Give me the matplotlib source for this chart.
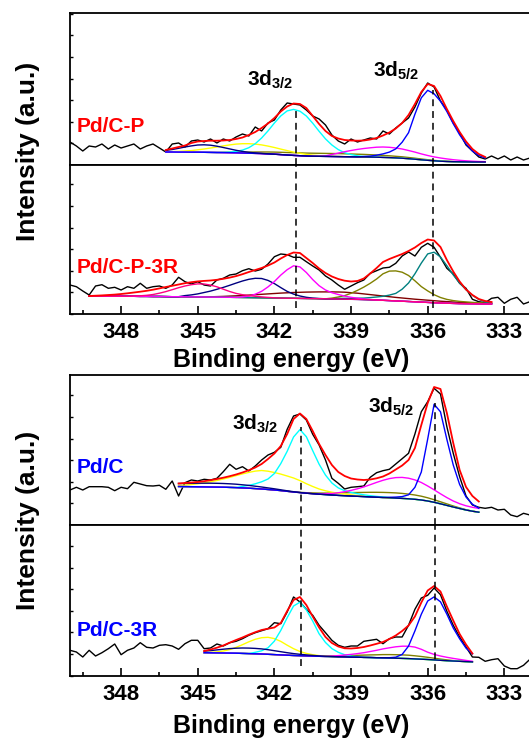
import numpy as np
import matplotlib
matplotlib.use("Agg")
import matplotlib.pyplot as plt
from matplotlib.ticker import MultipleLocator

plt.rcParams['font.family'] = ['Liberation Sans', 'DejaVu Sans']
plt.rcParams['font.weight'] = 'bold'
plt.rcParams['mathtext.default'] = 'regular'

STEP = 0.25          # eV between points
RAW_START = 350.0    # first energy of every raw spectrum

# ---------------- Pd/C-P ----------------
raw_cp = [23, 19, 14, 19, 18, 21, 16, 20, 17, 19,
          21, 16, 19, 21, 17, 13, 21, 22, 18, 24,
          25, 23, 26, 22, 26, 24, 28, 31, 29, 38,
          34, 42, 45, 55, 62, 61, 60, 55, 49, 46,
          40, 30, 24, 21, 26, 23, 25, 27, 26, 34,
          31, 37, 42, 47, 58, 72, 82, 78, 64, 55,
          42, 32, 20, 14, 8, 6, 9, 6, 9, 5,
          8, 5, 7, 6]
fit_start_cp = 346.25
bg_cp = [13.0, 13.0, 12.9, 12.9, 12.8, 12.8, 12.7, 12.6, 12.5, 12.4, 12.3,
         12.2, 12.0, 11.8, 11.6, 11.4, 11.1, 10.8, 10.4, 10.0, 9.6, 9.3,
         9.0, 8.8, 8.7, 8.6, 8.5, 8.4, 8.3, 8.2, 8.1, 8.0, 7.9,
         7.8, 7.6, 7.4, 7.1, 6.8, 6.3, 5.8, 5.2, 4.7, 4.2, 3.8,
         3.5, 3.3, 3.2, 3.1, 3.0, 3.0, 3.0]
env_cp = [15.0, 16.5, 18.0, 19.5, 22.0, 23.5, 24.0, 24.3, 24.3, 24.5, 25.0,
          26.0, 27.5, 30.0, 33.0, 37.0, 41.5, 47.0, 53.5, 58.5, 61.5, 61.0,
          57.0, 49.0, 41.0, 34.0, 29.0, 26.5, 25.0, 24.5, 24.3, 24.5, 25.5,
          27.0, 29.5, 32.5, 36.5, 42.0, 50.0, 61.0, 73.0, 81.0, 79.0, 69.0,
          56.0, 44.0, 33.0, 23.5, 16.0, 11.0, 8.0]
cp_olive = (344.0, [0.3, 0.5, 0.7, 0.9, 1.1, 1.4, 1.6, 1.9, 2.1, 2.3,
                    2.5, 2.7, 2.8, 2.9, 3.0, 3.0, 3.0, 3.0, 3.0, 2.9,
                    2.8, 2.7, 2.6, 2.4, 2.2, 2.0, 1.8, 1.6, 1.4, 1.2,
                    1.0, 0.8, 0.6, 0.4, 0.3, 0.2, 0.1])
cp_yellow = (346.25, [0.2, 0.4, 0.7, 1.1, 1.6, 2.4, 3.3, 4.4, 5.5, 6.7,
                      7.8, 8.7, 9.3, 9.5, 9.3, 8.7, 7.8, 6.7, 5.5, 4.4,
                      3.3, 2.4, 1.6, 1.1, 0.7, 0.4, 0.2, 0.1])
cp_cyan = (344.0, [0.2, 0.6, 1.4, 2.9, 5.5, 9.7, 15.6, 23.0, 31.2, 38.7,
                   44.1, 46.0, 44.5, 40.0, 33.0, 25.0, 17.5, 11.5, 7.0, 4.0,
                   2.2, 1.1, 0.5, 0.2])
cp_magenta = (340.0, [0.5, 2.0, 3.5, 5.0, 6.3, 7.5, 8.5, 9.3, 10.0, 10.4,
                      10.3, 9.9, 9.2, 8.2, 7.1, 5.9, 4.8, 3.9, 3.2, 2.6,
                      2.0, 1.5, 1.1, 0.8, 0.5, 0.3])
cp_blue = (338.5, [0.5, 1.0, 2.0, 3.5, 5.5, 9.0, 16.0, 26.0, 45.0, 62.0,
                   70.0, 67.0, 60.0, 50.0, 38.0, 27.0, 18.0, 11.0, 6.5, 4.0])
cp_navy = (346.25, [1.6, 2.5, 3.8, 5.1, 6.3, 7.2, 7.5, 7.2, 6.3, 5.1,
                    3.8, 2.5, 1.6, 0.9, 0.5, 0.2, 0.1])

# ---------------- Pd/C-P-3R ----------------
raw_cp3 = [29, 27.3, 23, 19, 28, 29.3, 25.7, 26.7, 24, 27.3,
           25.7, 30.7, 25.7, 27.3, 28, 25.7, 29, 36.7, 32.3, 30,
           32.3, 29, 28, 34, 35.7, 39, 40, 43.3, 45.3, 43,
           44.7, 50, 57.3, 60, 59.3, 56.7, 56.7, 52.3, 48, 44,
           38, 34, 29, 24.7, 28, 31.3, 34, 40.7, 43.3, 46,
           46.7, 50.7, 58, 62, 58, 66.7, 70.7, 66.7, 56.7, 45.7,
           40, 30.7, 25.7, 14.7, 12.3, 11.3, 15.7, 16.7, 10.7, 14.7,
           16.7, 10, 12.3, 14]
fit_start_cp3 = 349.25
bg_cp3 = [18.0, 18.0, 17.9, 17.9, 17.8, 17.8, 17.7, 17.7, 17.6, 17.6, 17.5,
          17.5, 17.4, 17.3, 17.3, 17.2, 17.1, 17.1, 17.0, 16.9, 16.9, 16.8,
          16.7, 16.6, 16.5, 16.4, 16.3, 16.2, 16.1, 16.0, 15.9, 15.8, 15.7,
          15.6, 15.5, 15.4, 15.3, 15.2, 15.1, 15.0, 14.9, 14.7, 14.6, 14.4,
          14.2, 14.0, 13.7, 13.4, 13.1, 12.8, 12.5, 12.2, 11.9, 11.6, 11.3,
          11.0, 10.8, 10.6, 10.4, 10.3, 10.2, 10.1, 10.0, 10.0]
env_cp3 = [18.0, 18.3, 18.6, 19.0, 19.4, 20.0, 20.7, 21.5, 22.3, 23.2, 24.3,
           25.6, 27.0, 28.2, 29.5, 30.8, 31.8, 32.6, 33.1, 33.5, 34.2, 35.2,
           36.4, 37.9, 39.8, 42.0, 44.0, 46.0, 48.5, 51.5, 55.5, 59.0, 61.5,
           61.0, 56.0, 51.0, 45.5, 41.0, 37.5, 35.0, 33.3, 32.5, 33.0, 35.5,
           40.5, 46.0, 52.0, 55.0, 57.5, 60.0, 63.0, 66.5, 71.0, 74.5, 73.5,
           67.0, 54.0, 42.5, 32.5, 24.5, 19.0, 15.0, 13.0, 12.0]
cp3_wine = (344.5, [0.3, 0.5, 0.8, 1.2, 1.6, 2.0, 2.5, 3.0, 3.5, 4.0,
                    4.5, 5.0, 5.4, 5.8, 6.1, 6.4, 6.6, 6.8, 6.9, 7.0,
                    7.0, 6.9, 6.6, 6.2, 5.7, 5.2, 4.7, 4.3, 3.9, 3.5,
                    3.2, 2.9, 2.6, 2.4, 2.2, 2.0, 1.8, 1.6, 1.4, 1.2,
                    1.0, 0.9, 0.8, 0.7, 0.6])
cp3_olive = (339.75, [0.8, 2.0, 3.5, 6.0, 9.0, 12.5, 16.5, 21.0, 26.5, 29.5,
                      30.0, 29.0, 26.0, 21.0, 15.5, 11.5, 8.0, 5.5, 3.8, 2.8,
                      2.2, 1.8, 1.4, 1.1, 0.9, 0.7])
cp3_teal = (339.5, [0.6, 0.8, 1.0, 1.2, 1.5, 2.2, 3.0, 4.0, 5.5, 7.5,
                    12.0, 18.5, 28.0, 39.0, 48.5, 50.5, 46.0, 37.5, 28.5, 20.5,
                    14.0, 8.5, 4.5, 2.0, 0.8])
cp3_navy = (345.5, [1.2, 2.0, 3.0, 4.5, 6.0, 7.8, 9.8, 12.0, 14.3, 16.5,
                    18.3, 19.4, 19.3, 17.5, 14.4, 10.5, 6.8, 4.2, 2.4, 1.2,
                    0.5, 0.2])
cp3_magenta = (343.25, [0.5, 1.5, 3.5, 6.5, 11.0, 16.5, 23.0, 28.5, 32.5, 31.5,
                        26.0, 19.0, 13.0, 8.8, 6.2, 4.5, 3.0, 2.0, 1.2, 0.6,
                        0.3])
cp3_pink = (347.5, [0.3, 0.6, 1.1, 2.0, 3.3, 5.0, 7.0, 9.0, 10.8, 12.2,
                    13.0, 13.0, 12.0, 10.3, 8.0, 5.8, 4.0, 2.8, 2.0, 1.4,
                    0.9, 0.5, 0.2])

# ---------------- Pd/C ----------------
raw_c = [35, 37.7, 35, 38.3, 38.3, 38.3, 37.7, 34.3, 37.7, 36.3,
         42.7, 41, 39.3, 39, 39.7, 35.7, 44, 29, 42.3, 45,
         44, 45.7, 45, 46.7, 53.3, 60.7, 55.7, 58.3, 54, 59,
         65, 70, 72.7, 77.7, 95.7, 109, 111, 105, 90.7, 80,
         65, 46.7, 41.7, 36, 37.7, 38.3, 39, 47.7, 52.3, 54.3,
         55.7, 61, 66.3, 71.7, 91, 113.3, 123.3, 136.7, 131, 98.3,
         71.7, 48.3, 29, 20, 17.7, 16.7, 17.7, 15, 15.7, 10,
         8.3, 11.7, 10, 12]
fit_start_c = 345.75
bg_c = [38.5, 38.4, 38.3, 38.2, 38.1, 38.0, 37.9, 37.8, 37.6, 37.4, 37.1, 36.8,
        36.4, 36.0, 35.5, 35.0, 34.4, 33.7, 33.0, 32.4, 31.8, 31.3, 30.8, 30.4,
        30.0, 29.6, 29.3, 29.0, 28.7, 28.4, 28.1, 27.8, 27.5, 27.2, 26.9, 26.6,
        26.2, 25.7, 25.0, 24.0, 22.7, 21.2, 19.6, 18.0, 16.5, 15.0, 13.8, 12.8]
env_c = [41.5, 42.0, 42.5, 43.0, 43.8, 44.8, 46.0, 47.3, 48.8, 50.5, 52.5, 54.8,
         57.5, 61.0, 66.0, 71.5, 79.0, 91.0, 106.0, 111.5, 106.0, 94.0, 81.0, 70.0,
         60.0, 53.0, 49.0, 46.5, 45.5, 45.0, 45.5, 46.7, 48.5, 51.5, 55.5, 59.5,
         65.0, 77.0, 100.0, 122.0, 138.0, 136.0, 112.0, 82.0, 55.0, 38.0, 29.0, 23.5]
c_olive = (341.0, [0.3, 0.5, 0.8, 1.1, 1.5, 1.9, 2.4, 2.9, 3.4, 3.8,
                   4.2, 4.6, 4.9, 5.1, 5.2, 5.2, 5.0, 4.7, 4.3, 3.8,
                   3.2, 2.6, 2.0, 1.5, 1.0, 0.6, 0.3])
c_yellow = (345.75, [1.0, 1.5, 2.2, 3.0, 4.0, 5.2, 6.6, 8.2, 10.0, 12.0,
                     14.0, 15.8, 17.5, 18.5, 18.3, 17.5, 16.5, 15.3, 14.0, 12.0,
                     9.5, 7.2, 5.2, 3.8, 2.8, 2.1, 1.6, 1.2, 0.8, 0.5,
                     0.3, 0.1])
c_cyan = (343.25, [1.5, 2.8, 4.8, 7.2, 10.5, 16.5, 27.0, 40.0, 55.0, 63.0,
                   56.5, 43.0, 30.0, 19.5, 12.0, 7.5, 5.0, 3.6, 2.6, 1.8,
                   1.2, 0.8, 0.5, 0.3])
c_magenta = (340.25, [0.3, 0.8, 1.5, 2.6, 4.0, 5.6, 7.5, 9.7, 12.2, 14.8,
                      17.2, 19.2, 20.5, 21.0, 20.6, 19.4, 17.5, 15.0, 12.5, 10.0,
                      7.8, 6.0, 4.8, 4.2, 3.9, 3.8])
c_blue = (337.5, [0.5, 1.0, 1.8, 4.0, 12.0, 28.0, 62.0, 98.0, 92.0, 66.0,
                  42.0, 24.0, 13.0, 7.0, 4.0])
c_navy = (345.75, [3.0, 3.2, 3.4, 3.6, 3.7, 3.8, 3.8, 3.7, 3.6, 3.4,
                   3.1, 2.8, 2.4, 2.0, 1.6, 1.2, 0.8, 0.5, 0.3, 0.1])

# ---------------- Pd/C-3R ----------------
raw_c3 = [25.2, 23.5, 18.5, 25.2, 19.5, 22.8, 26.8, 31.5, 20.8, 25.2,
          27.5, 32.8, 28.2, 27.5, 30.2, 30.8, 29.5, 26.2, 31.8, 35.2,
          35.2, 26.8, 27.5, 31.5, 29.5, 32.8, 34.2, 36.8, 40.2, 42.8,
          44.8, 46.8, 52.8, 51.8, 63.5, 78.5, 73.5, 66.2, 60.2, 50.2,
          42.8, 35.2, 30.2, 28.2, 29.5, 29.5, 34.2, 35.2, 36.2, 31.8,
          36.8, 38.5, 38.5, 50.2, 66.2, 77.5, 80.2, 87.5, 80.8, 64.2,
          50.2, 38.5, 28.5, 18.5, 18.2, 14.2, 15.8, 16.8, 9.5, 6.8,
          6.8, 10.2, 16.2, 12]
fit_start_c3 = 344.75
bg_c3 = [22.8, 22.7, 22.6, 22.5, 22.4, 22.3, 22.1, 21.9,
         21.7, 21.5, 21.2, 20.9, 20.6, 20.3, 20.0, 19.8,
         19.6, 19.4, 19.2, 19.0, 18.9, 18.7, 18.6, 18.4,
         18.3, 18.1, 18.0, 17.8, 17.7, 17.5, 17.3, 17.1,
         16.9, 16.6, 16.3, 16.0, 15.6, 15.2, 14.8, 14.5,
         14.2, 13.9, 13.6]
env_c3 = [24.5, 26.0, 27.8, 30.0, 32.8, 35.5, 38.0, 40.8,
          43.3, 45.5, 46.8, 48.0, 52.5, 64.5, 75.5, 78.5,
          70.5, 59.0, 48.0, 38.5, 32.5, 29.0, 27.2, 27.0,
          27.5, 28.5, 30.0, 31.7, 33.5, 36.5, 40.0, 44.5,
          50.0, 59.0, 73.0, 85.0, 89.5, 84.0, 69.0, 55.0,
          41.5, 31.0, 22.0]
c3_olive = (340.0, [0.3, 0.5, 0.8, 1.1, 1.5, 1.9, 2.3, 2.6, 2.9, 3.2,
                    3.4, 3.5, 3.5, 3.4, 3.1, 2.7, 2.2, 1.7, 1.2, 0.8, 0.4])
c3_yellow = (344.5, [0.5, 1.0, 2.0, 3.5, 5.8, 8.7, 11.8, 14.5, 16.3, 17.0,
                     16.0, 13.5, 10.0, 6.8, 4.2, 2.5, 1.4, 0.7, 0.3])
c3_cyan = (342.75, [1.5, 3.2, 6.5, 13.5, 24.5, 37.5, 49.5, 53.5, 46.0, 35.0,
                    22.5, 14.0, 8.0, 4.5, 2.2, 1.0, 0.4])
c3_magenta = (339.75, [0.5, 1.2, 1.9, 2.7, 3.6, 4.7, 6.0, 7.4, 8.9, 10.2,
                       11.4, 12.2, 12.4, 11.8, 9.9, 7.3, 5.5, 4.3, 3.4, 2.6,
                       1.9, 1.2, 0.6])
c3_blue = (337.5, [0.3, 1.0, 4.0, 12.5, 28.0, 45.0, 58.5, 63.0, 58.5, 46.5,
                   33.0, 22.5, 13.5, 8.0])
c3_navy = (344.75, [1.5, 2.2, 3.0, 3.8, 4.5, 5.0, 5.4, 5.5, 5.4, 5.1,
                    4.6, 3.9, 3.2, 2.5, 1.9, 1.4, 1.0, 0.7, 0.4, 0.2])

# peak guide positions (eV)
dash_upper = [341.15, 335.8]
dash_lower = [340.96, 335.72]

# labelled energies on the x axis
xtick_values = [348, 345, 342, 339, 336, 333]

# ---------------- layout ----------------
W, H = 529, 742
fig = plt.figure(figsize=(W / 100, H / 100), dpi=100)


def make_axes(top, bottom):
    # axes extend past the right edge, like the cropped original
    ax = fig.add_axes([70 / W, 1 - bottom / H, 511 / W, (bottom - top) / H])
    ax.set_xlim(350, 330)
    ax.set_ylim(0, bottom - top)
    for s in ax.spines.values():
        s.set_linewidth(1.3)
    ax.set_xticks(xtick_values)
    ax.xaxis.set_minor_locator(MultipleLocator(1.5))
    ax.yaxis.set_major_locator(MultipleLocator(21.6))
    ax.tick_params(axis='x', which='major', direction='in', length=6, width=1.2,
                   labelsize=16, pad=6)
    ax.tick_params(axis='x', which='minor', direction='in', length=3, width=1.2)
    ax.tick_params(axis='y', direction='in', length=2.5, width=1.0, labelleft=False)
    return ax


def energies(start, n):
    return start - STEP * np.arange(n)


def draw(ax, raw, fit_start, bg, env, comps, bg_color):
    ax.plot(energies(RAW_START, len(raw)), raw, color='black', lw=1.0, zorder=2)
    bg = np.asarray(bg, dtype=float)
    x = energies(fit_start, len(bg))
    ax.plot(x, bg, color=bg_color, lw=1.0, zorder=3)
    for color, (start, vals) in comps:
        full = np.zeros(len(bg))
        i0 = int(round((fit_start - start) / STEP))
        full[i0:i0 + len(vals)] = vals
        ax.plot(x, bg + full, color=color, lw=1.0, zorder=3)
    ax.plot(x, env, color='#FF0000', lw=1.3, zorder=4)


def dashes(ax, e, y0, y1):
    ax.plot([e, e], [y0, y1], color='black', lw=1.1, ls=(0, (4.5, 3.2)), zorder=5)


def sublabel(ax, e, y, txt):
    ax.text(e, y, txt, fontsize=15, ha='left', va='baseline', color='black')


axA = make_axes(13, 165)
axB = make_axes(165, 314)
axC = make_axes(374.5, 525)
axD = make_axes(525, 675.5)
for ax in (axA, axC):
    ax.tick_params(axis='x', which='both', bottom=False, labelbottom=False)

draw(axA, raw_cp, fit_start_cp, bg_cp, env_cp,
     [('#808000', cp_olive), ('#FFFF00', cp_yellow), ('#00FFFF', cp_cyan),
      ('#FF00FF', cp_magenta), ('#0000FF', cp_blue), ('#000080', cp_navy)],
     '#800080')
draw(axB, raw_cp3, fit_start_cp3, bg_cp3, env_cp3,
     [('#800000', cp3_wine), ('#808000', cp3_olive), ('#008080', cp3_teal),
      ('#000080', cp3_navy), ('#FF00FF', cp3_magenta), ('#FF0080', cp3_pink)],
     '#8080FF')
draw(axC, raw_c, fit_start_c, bg_c, env_c,
     [('#808000', c_olive), ('#FFFF00', c_yellow), ('#00FFFF', c_cyan),
      ('#FF00FF', c_magenta), ('#0000FF', c_blue), ('#000080', c_navy)],
     '#00C000')
draw(axD, raw_c3, fit_start_c3, bg_c3, env_c3,
     [('#808000', c3_olive), ('#FFFF00', c3_yellow), ('#00FFFF', c3_cyan),
      ('#FF00FF', c3_magenta), ('#0000FF', c3_blue), ('#000080', c3_navy)],
     '#00C000')

dashes(axA, dash_upper[0], 0, 56)
dashes(axA, dash_upper[1], 0, 75)
for e in dash_upper:
    dashes(axB, e, 6, 149)
dashes(axC, dash_lower[0], 0, 98)
dashes(axC, dash_lower[1], 0, 122)
dashes(axD, dash_lower[0], 10, 150.5)
dashes(axD, dash_lower[1], 5, 150.5)

sublabel(axA, 343.08, 79, r'3d$_{3/2}$')
sublabel(axA, 338.13, 88.3, r'3d$_{5/2}$')
sublabel(axC, 343.67, 95, r'3d$_{3/2}$')
sublabel(axC, 338.32, 112.3, r'3d$_{5/2}$')

axA.text(349.74, 38, 'Pd/C-P', color='#FF0000', fontsize=15, va='center')
axB.text(349.74, 46.5, 'Pd/C-P-3R', color='#FF0000', fontsize=15, va='center')
axC.text(349.74, 57.5, 'Pd/C', color='#0000FF', fontsize=15, va='center')
axD.text(349.74, 45.5, 'Pd/C-3R', color='#0000FF', fontsize=15, va='center')

for yc in (151, 520):
    fig.text(28 / W, 1 - yc / H, 'Intensity (a.u.)', rotation=90,
             fontsize=19, ha='center', va='center')
for yc in (360, 726):
    fig.text(291 / W, 1 - yc / H, 'Binding energy (eV)',
             fontsize=18, ha='center', va='center')

fig.savefig('out.png', dpi=100)
